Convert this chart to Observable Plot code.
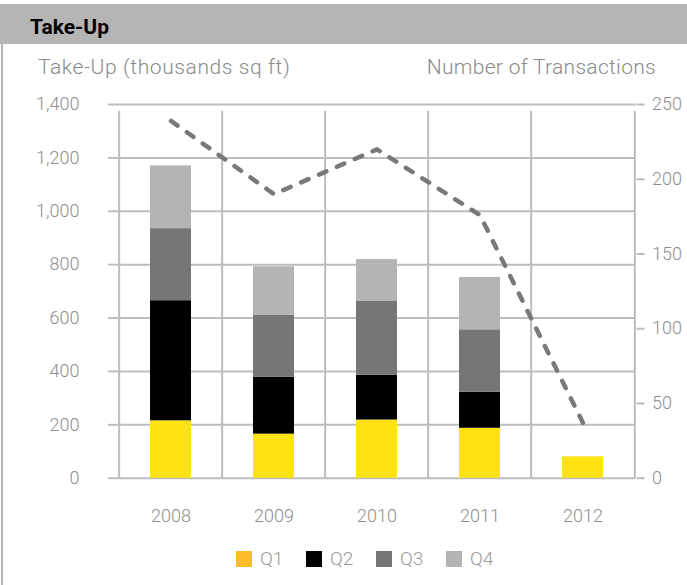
<!DOCTYPE html>
<html><head><meta charset="utf-8">
<script src="https://cdn.jsdelivr.net/npm/d3@7"></script>
<script src="https://cdn.jsdelivr.net/npm/@observablehq/plot@0.6"></script>
<style>
body{margin:0;background:#fff;}
#wrap{position:relative;width:687px;height:585px;overflow:hidden;font-family:Roboto, "Open Sans", sans-serif;}
#chart{position:absolute;left:0;top:0;}
#tbar{position:absolute;left:0;top:4px;width:687px;height:40px;background:#b4b5b4;}
#title{position:absolute;left:30px;top:15px;font-weight:bold;font-size:21px;color:#000;line-height:24px;}
#lborder{position:absolute;left:1px;top:44px;width:2px;height:541px;background:#b4b5b4;}
.head{position:absolute;top:55px;font-size:21px;color:#8a8a8a;font-weight:300;line-height:24px;white-space:nowrap;}
#legend{position:absolute;left:236px;top:549px;display:flex;gap:0;}
.item{display:flex;align-items:center;width:70px;font-size:19px;color:#9a9a9a;font-weight:300;line-height:20px;}
.sw{width:16px;height:16px;margin-right:8px;}
</style></head>
<body>
<div id="wrap">
  <div id="chart"></div>
  <div id="tbar"></div>
  <div id="title">Take-Up</div>
  <div id="lborder"></div>
  <div class="head" style="left:38px;letter-spacing:0.6px;">Take-Up (thousands sq ft)</div>
  <div class="head" style="right:31px;letter-spacing:0.3px;">Number of Transactions</div>
  <div id="legend"></div>
</div>
<script>
const years = ["2008","2009","2010","2011","2012"];
const quarters = ["Q1","Q2","Q3","Q4"];
const q1 = [215,165,218,187,80];
const q2 = [450,213,168,135,0];
const q3 = [270,232,276,234,0];
const q4 = [235,182,157,196,0];
const transactions = [239,190,220,176,37];
const leftTicks = [0,200,400,600,800,1000,1200,1400];
const rightTicks = [0,50,100,150,200,250];
const barColors = ["#ffe212","#000000","#747776","#b3b4b3"];
const legendColors = ["#fdbc2c","#000000","#747776","#b3b4b3"];

const leftMax = 1400, rightMax = 250, k = leftMax / rightMax;
const W = 687, H = 585, mL = 117, mR = 51.5, mT = 104, mB = 107.3;
const step = (W - mL - mR) / years.length;
const gridColor = "#bdbdbd", textColor = "#8e8e8e";

const series = [q1,q2,q3,q4];
const bars = [];
years.forEach((y,i) => quarters.forEach((q,j) => bars.push({year:y, quarter:q, value:series[j][i]})));
const lineData = years.map((y,i) => ({year:y, n:transactions[i]}));

const plot = Plot.plot({
  width: W, height: H,
  marginLeft: mL, marginRight: mR, marginTop: mT, marginBottom: mB,
  style: {fontFamily: "Roboto, sans-serif", background: "white"},
  x: {type: "band", domain: years, paddingInner: 0.6, paddingOuter: 0.3, axis: null, label: null},
  y: {domain: [0, leftMax], axis: null, label: null},
  color: {domain: quarters, range: barColors},
  marks: [
    Plot.ruleY(leftTicks, {stroke: gridColor, strokeWidth: 2}),
    Plot.ruleX(years, {x: d => d, dx: -step/2, y1: 0, y2: leftMax, insetBottom: -7, stroke: gridColor, strokeWidth: 2}),
    Plot.ruleX([years[years.length-1]], {x: d => d, dx: step/2, y1: 0, y2: leftMax, insetBottom: -7, stroke: gridColor, strokeWidth: 2}),
    Plot.barY(bars, {x: "year", y: "value", fill: "quarter", order: quarters}),
    Plot.line(lineData, {x: "year", y: d => d.n * k, stroke: "#787a79", strokeWidth: 4.5, strokeDasharray: "8,11.5", strokeLinecap: "round"}),
    Plot.axisY(leftTicks, {anchor: "left", label: null, tickSize: 9, tickPadding: 29, tickFormat: d3.format(","), stroke: gridColor, strokeWidth: 2, fill: textColor, fontSize: 18, fontWeight: 300}),
    Plot.axisY(rightTicks.map(d => d * k), {anchor: "right", label: null, tickSize: 8, tickPadding: 8, tickFormat: d => Math.round(d / k), stroke: gridColor, strokeWidth: 2, fill: textColor, fontSize: 18, fontWeight: 300}),
    Plot.axisX(years, {label: null, tickSize: 0, tickPadding: 31, fill: textColor, fontSize: 18, fontWeight: 300})
  ]
});
document.getElementById("chart").appendChild(plot);

const legend = document.getElementById("legend");
quarters.forEach((q,i) => {
  const it = document.createElement("div"); it.className = "item";
  const sw = document.createElement("div"); sw.className = "sw"; sw.style.background = legendColors[i];
  const t = document.createElement("span"); t.textContent = q;
  it.appendChild(sw); it.appendChild(t); legend.appendChild(it);
});
</script>
</body></html>
